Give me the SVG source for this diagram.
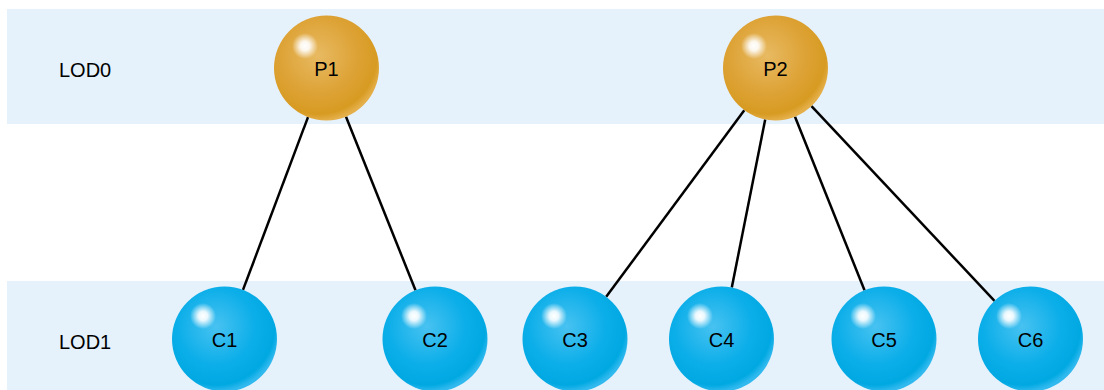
<svg xmlns="http://www.w3.org/2000/svg" width="1104" height="390" viewBox="0 0 1104 390">
<defs>
<radialGradient id="gGold" cx="0.42" cy="0.38" r="0.62">
<stop offset="0" stop-color="#E8BA62"/>
<stop offset="0.6" stop-color="#DDA235"/>
<stop offset="0.9" stop-color="#D79B22"/>
<stop offset="1" stop-color="#E4AE48"/>
</radialGradient>
<radialGradient id="gBlue" cx="0.42" cy="0.38" r="0.62">
<stop offset="0" stop-color="#48C2F1"/>
<stop offset="0.6" stop-color="#0BAEE9"/>
<stop offset="0.9" stop-color="#00A8E2"/>
<stop offset="1" stop-color="#30B9EE"/>
</radialGradient>
<radialGradient id="gHi">
<stop offset="0" stop-color="#FFFFFF" stop-opacity="1"/>
<stop offset="0.35" stop-color="#FFFFFF" stop-opacity="0.9"/>
<stop offset="1" stop-color="#FFFFFF" stop-opacity="0"/>
</radialGradient>
</defs>
<style>
.band{fill:#E5F1FB}
.lbl{font-family:"Liberation Sans",Arial,sans-serif;font-size:20px;fill:#000}
.nl{font-family:"Liberation Sans",Arial,sans-serif;font-size:20px;fill:#000;text-anchor:middle}
.gold{fill:url(#gGold)}
.blue{fill:url(#gBlue)}
.hi{fill:url(#gHi)}
.edge{stroke:#000;stroke-width:2.5;fill:none}
</style>
<rect width="1104" height="390" fill="#FFFFFF"/>
<g id="lod0-band"><rect class="band" x="7" y="9" width="1097" height="115"/><text class="lbl" x="59" y="77">LOD0</text></g>
<g id="lod1-band"><rect class="band" x="7" y="281" width="1097" height="109"/><text class="lbl" x="59" y="349">LOD1</text></g>
<g id="connectors">
<line class="edge" x1="308" y1="117.1" x2="243" y2="289.9"/>
<line class="edge" x1="346" y1="116.7" x2="415.5" y2="290.3"/>
<line class="edge" x1="744.3" y1="110.2" x2="606.2" y2="296.8"/>
<line class="edge" x1="765.2" y1="119.5" x2="731.8" y2="287.5"/>
<line class="edge" x1="795" y1="116.7" x2="864.5" y2="290.3"/>
<line class="edge" x1="811.5" y1="106.2" x2="994.5" y2="300.8"/>
</g>
<g id="P1"><circle class="gold" cx="326.5" cy="68" r="52.5"/><circle class="hi" cx="305" cy="46" r="13"/><text class="nl" x="326.5" y="76">P1</text></g>
<g id="P2"><circle class="gold" cx="775.5" cy="68" r="52.5"/><circle class="hi" cx="754" cy="46" r="13"/><text class="nl" x="775.5" y="76">P2</text></g>
<g id="C1"><circle class="blue" cx="224.5" cy="339" r="52.5"/><circle class="hi" cx="203" cy="316" r="13"/><text class="nl" x="224.5" y="347">C1</text></g>
<g id="C2"><circle class="blue" cx="435" cy="339" r="52.5"/><circle class="hi" cx="414" cy="316" r="13"/><text class="nl" x="435" y="347">C2</text></g>
<g id="C3"><circle class="blue" cx="575" cy="339" r="52.5"/><circle class="hi" cx="554" cy="316" r="13"/><text class="nl" x="575" y="347">C3</text></g>
<g id="C4"><circle class="blue" cx="721.5" cy="339" r="52.5"/><circle class="hi" cx="700" cy="316" r="13"/><text class="nl" x="721.5" y="347">C4</text></g>
<g id="C5"><circle class="blue" cx="884" cy="339" r="52.5"/><circle class="hi" cx="863" cy="316" r="13"/><text class="nl" x="884" y="347">C5</text></g>
<g id="C6"><circle class="blue" cx="1030.5" cy="339" r="52.5"/><circle class="hi" cx="1009" cy="316" r="13"/><text class="nl" x="1030.5" y="347">C6</text></g>
</svg>
